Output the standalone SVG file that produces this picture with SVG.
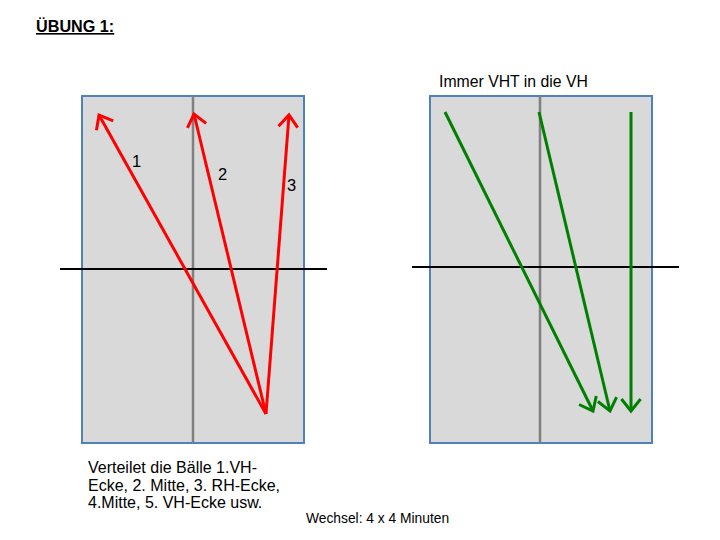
<svg xmlns="http://www.w3.org/2000/svg" width="720" height="540" viewBox="0 0 720 540">
<style>
.field{fill:#d9d9d9;stroke:#4f81bd;stroke-width:2}
.mid{stroke:#808080;stroke-width:2.5}
.hline{stroke:#000;stroke-width:2}
.red{stroke:#ff0000;stroke-width:3;fill:none}
.green{stroke:#008000;stroke-width:3;fill:none}
text{font-family:"Liberation Sans",Arial,sans-serif;fill:#000}
</style>
<defs>
<marker id="ar" markerWidth="8" markerHeight="8" refX="5" refY="4" orient="auto" markerUnits="strokeWidth">
<path d="M1,0.8 L5,4 L1,7.2" fill="none" stroke="#ff0000" stroke-width="1"/>
</marker>
<marker id="ag" markerWidth="8" markerHeight="8" refX="5" refY="4" orient="auto" markerUnits="strokeWidth">
<path d="M1,0.8 L5,4 L1,7.2" fill="none" stroke="#008000" stroke-width="1"/>
</marker>
</defs>
<text x="36" y="32" font-size="16.2" font-weight="bold" text-decoration="underline">ÜBUNG 1:</text>
<g id="field-left">
<rect class="field" x="82" y="96" width="222" height="347"/>
<line class="mid" x1="193" y1="96" x2="193" y2="443"/>
<line class="hline" x1="60" y1="269" x2="327" y2="269"/>
</g>
<g id="field-right">
<rect class="field" x="430" y="96" width="222" height="347"/>
<line class="mid" x1="540" y1="96" x2="540" y2="443"/>
<line class="hline" x1="412" y1="267" x2="679" y2="267"/>
</g>
<g id="connectors">
<line class="red" x1="266" y1="414" x2="99" y2="115" marker-end="url(#ar)"/>
<line class="red" x1="266" y1="414" x2="194" y2="114" marker-end="url(#ar)"/>
<line class="red" x1="266" y1="414" x2="289" y2="115" marker-end="url(#ar)"/>
<line class="green" x1="445" y1="112" x2="593" y2="411" marker-end="url(#ag)"/>
<line class="green" x1="539" y1="112" x2="610" y2="411" marker-end="url(#ag)"/>
<line class="green" x1="631" y1="112" x2="631" y2="411" marker-end="url(#ag)"/>
</g>
<text x="132" y="167" font-size="16.5">1</text>
<text x="218" y="180" font-size="16.5">2</text>
<text x="287" y="191" font-size="16.5">3</text>
<text x="439" y="87" font-size="15.8">Immer VHT in die VH</text>
<text font-size="16"><tspan x="88" y="473">Verteilet die Bälle 1.VH-</tspan><tspan x="88" y="490.5">Ecke, 2. Mitte, 3. RH-Ecke,</tspan><tspan x="88" y="508">4.Mitte, 5. VH-Ecke usw.</tspan></text>
<text x="306" y="523" font-size="13.8">Wechsel: 4 x 4 Minuten</text>
</svg>
